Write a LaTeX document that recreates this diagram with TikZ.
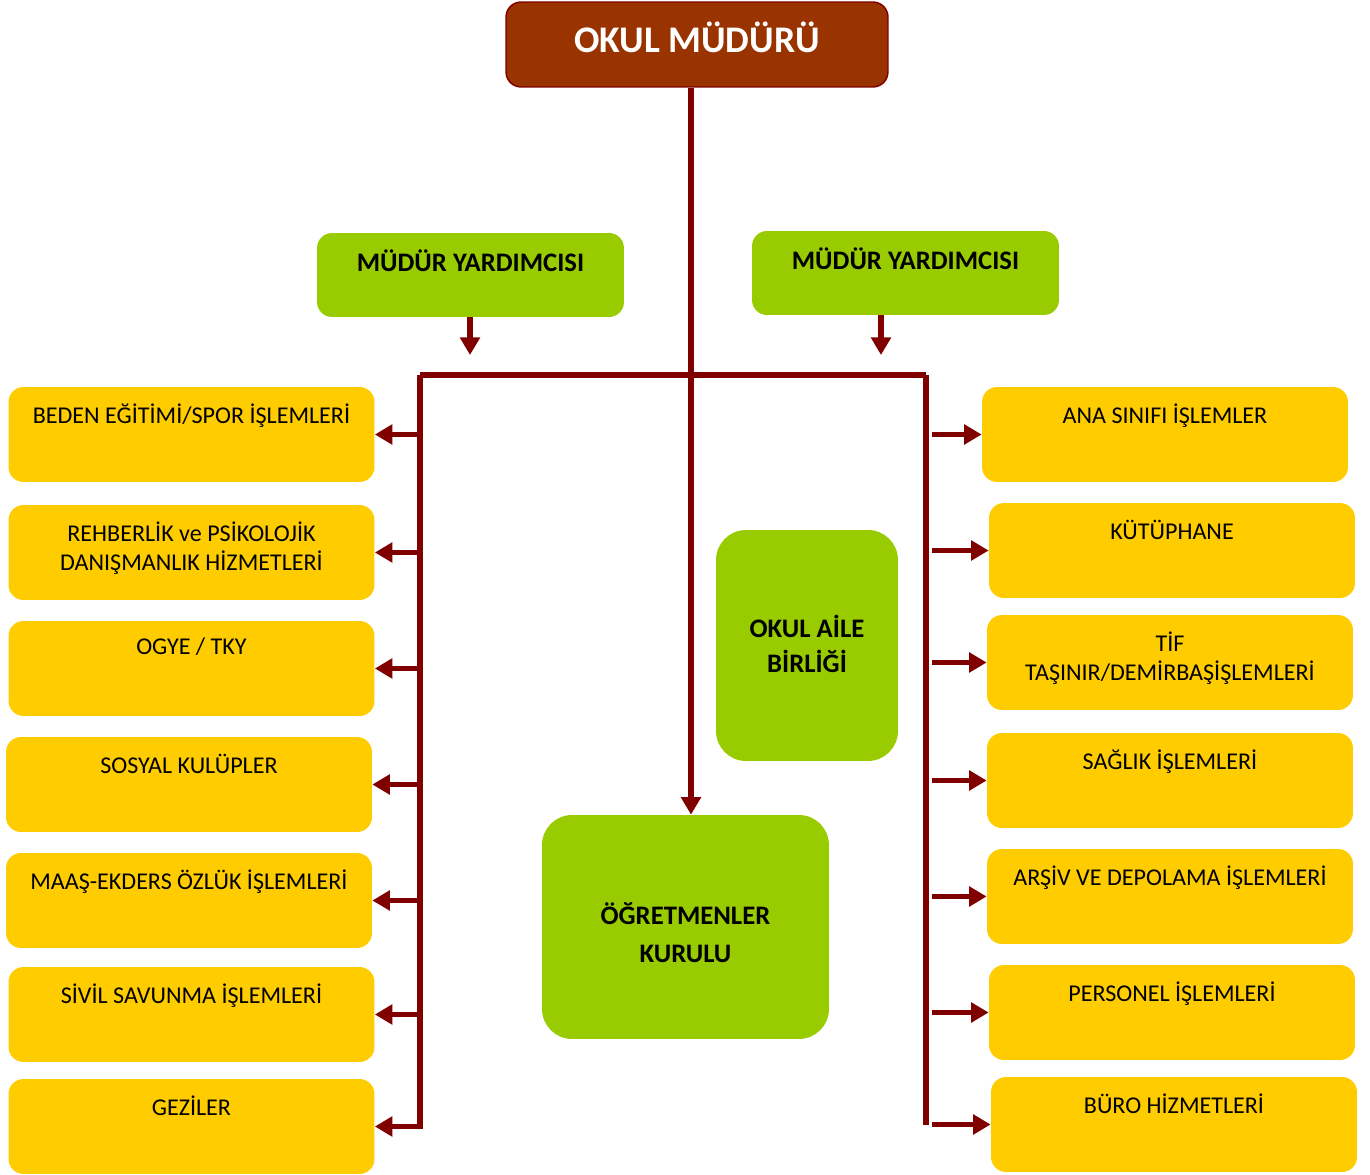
\documentclass[tikz,border=0pt]{standalone}
\usepackage{fontspec}
\setmainfont{Carlito}
\usetikzlibrary{arrows.meta}

\definecolor{mudur}{HTML}{993300}
\definecolor{cizgi}{HTML}{800000}
\definecolor{yesil}{HTML}{99CC00}
\definecolor{sari}{HTML}{FFCC00}

\begin{document}
\begin{tikzpicture}[x=0.02cm, y=-0.02cm,
            topbox/.style={draw=cizgi, thick, fill=mudur, rounded corners=0.3cm, minimum width=7.64cm, minimum height=1.7cm, inner sep=0pt},
            greenbox/.style={fill=yesil, rounded corners=0.3cm, inner sep=0pt},
            yellowbox/.style={fill=sari, rounded corners=0.3cm, minimum width=7.32cm, minimum height=1.9cm, inner sep=0pt},
            boxtext/.style={anchor=north, align=center, inner sep=0pt, font=\fontsize{13.7}{16.4}\selectfont},
            boldtext/.style={align=center, inner sep=0pt, font=\bfseries\fontsize{15.2}{20.4}\selectfont},
            line/.style={draw=cizgi, line width=3.2pt},
            arr/.style={line, -{Triangle[width=11pt,length=10pt]}}
        ]
        \useasboundingbox (0,0) rectangle (1370,1175);

        % Top of the chart
        \node[topbox] (mudur) at (697,44.5) {};
        \node[text=white, inner sep=0pt, font=\bfseries\fontsize{21.4}{24}\selectfont] (mudurt) at (697,37) {OKUL MÜDÜRÜ};

        % The two assistants
        \node[greenbox, minimum width=6.14cm, minimum height=1.68cm] (my1) at (470.5,275) {};
        \node[boldtext] (my1t) at (470.5,261) {MÜDÜR YARDIMCISI};
        \node[greenbox, minimum width=6.14cm, minimum height=1.68cm] (my2) at (905.5,273) {};
        \node[boldtext] (my2t) at (905.5,259) {MÜDÜR YARDIMCISI};

        % Middle boxes
        \node[greenbox, rounded corners=0.6cm, minimum width=3.64cm, minimum height=4.62cm] (oab) at (807,645.5) {};
        \node[boldtext] (oabt) at (807,644) {OKUL AİLE\\BİRLİĞİ};
        \node[greenbox, rounded corners=0.6cm, minimum width=5.74cm, minimum height=4.48cm] (ogr) at (685.5,927) {};
        \node[boldtext, font=\bfseries\fontsize{15.2}{21.5}\selectfont] (ogrt) at (685.5,933) {ÖĞRETMENLER\\KURULU};

        % Left column
        \foreach \txt/\x/\y [count=\n] in {
                {BEDEN EĞİTİMİ/SPOR İŞLEMLERİ}/191.5/434.5,
                {REHBERLİK ve PSİKOLOJİK\\DANIŞMANLIK HİZMETLERİ}/191.5/552.5,
                {OGYE / TKY}/191.5/668.5,
                {SOSYAL KULÜPLER}/189/784.5,
                {MAAŞ-EKDERS ÖZLÜK İŞLEMLERİ}/189/900.5,
                {SİVİL SAVUNMA İŞLEMLERİ}/191.5/1014.5,
                {GEZİLER}/191.5/1126.5} {
                \node[yellowbox] (l\n) at (\x,\y) {};
                \node[boxtext] (l\n t) at ([yshift=-0.34cm]l\n.north) {\txt};
            }

        % Right column
        \foreach \txt/\x/\y [count=\n] in {
                {ANA SINIFI İŞLEMLER}/1165/434.5,
                {KÜTÜPHANE}/1172/550.5,
                {TİF\\TAŞINIR/DEMİRBAŞİŞLEMLERİ}/1170/662.5,
                {SAĞLIK İŞLEMLERİ}/1170/780.5,
                {ARŞİV VE DEPOLAMA İŞLEMLERİ}/1170/896.5,
                {PERSONEL İŞLEMLERİ}/1172/1012.5,
                {BÜRO HİZMETLERİ}/1174/1124.5} {
                \node[yellowbox] (r\n) at (\x,\y) {};
                \node[boxtext] (r\n t) at ([yshift=-0.34cm]r\n.north) {\txt};
            }

        % Connectors
        \coordinate (hl) at (420,375);
        \coordinate (hc) at (691,375);
        \coordinate (hr) at (926,375);
        \coordinate (a1) at (470,355);
        \coordinate (a2) at (881,355);
        \draw[line] (hl) -- (hr);
        \draw[line] (hl) -- ([yshift=-0.05cm]hl |- l7.east);
        \draw[line] (hr) -- (hr |- r7.west);
        \draw[arr] (mudur.south -| hc) -- (ogr.north -| hc);
        \draw[arr] (my1.south -| a1) -- (a1);
        \draw[arr] (my2.south -| a2) -- (a2);

        \foreach \n in {1,...,7} {
                \draw[arr] (hl |- l\n.east) -- (l\n.east);
                \draw[arr] ([xshift=0.12cm]hr |- r\n.west) -- (r\n.west);
            }
    \end{tikzpicture}
\end{document}
